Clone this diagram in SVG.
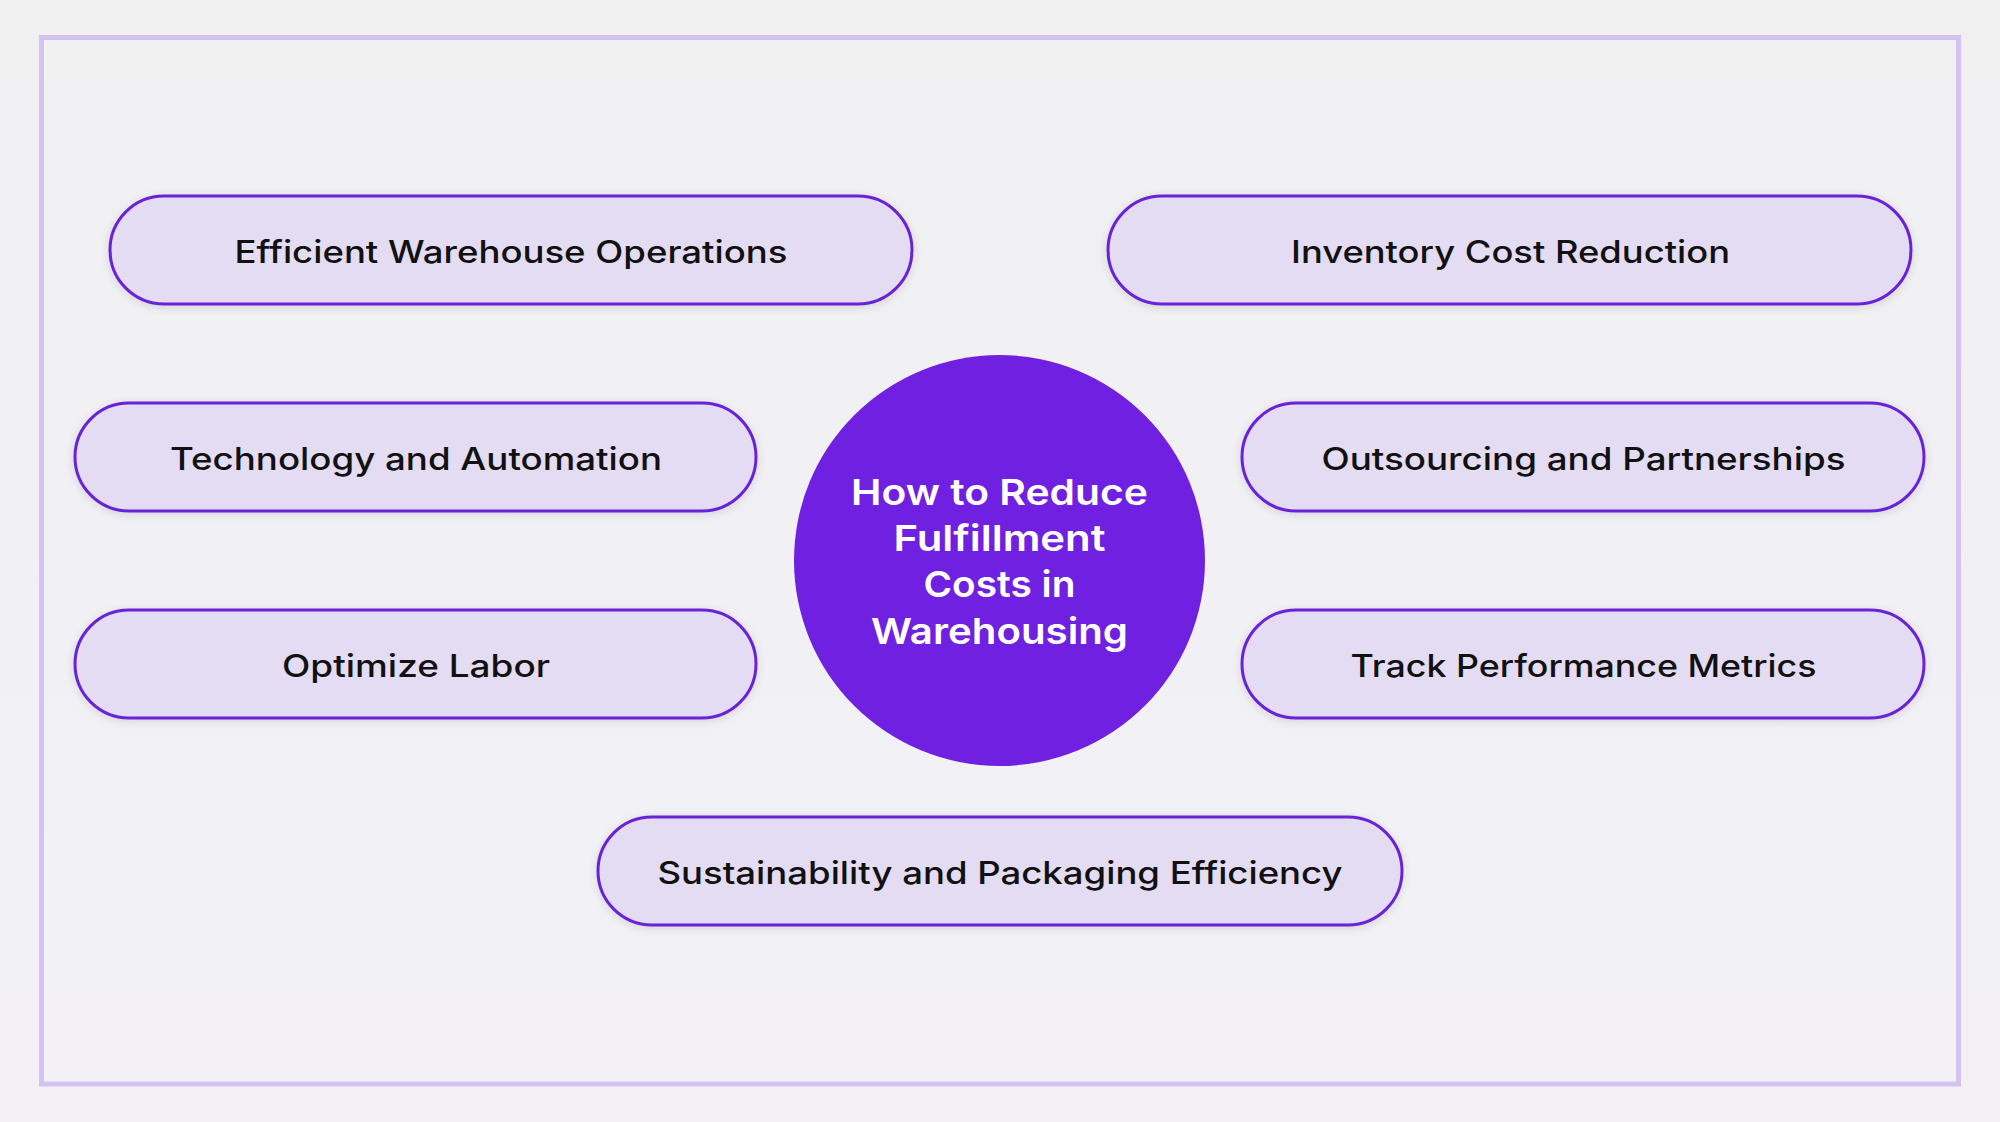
<svg xmlns="http://www.w3.org/2000/svg" width="2000" height="1122" viewBox="0 0 2000 1122">
<defs>
<linearGradient id="bg" x1="0" y1="0" x2="0" y2="1">
<stop offset="0" stop-color="#f0f0f1"/>
<stop offset="0.5" stop-color="#f1f1f5"/>
<stop offset="1" stop-color="#f3f1f5"/>
</linearGradient>
<filter id="sh" x="-10%" y="-30%" width="120%" height="160%">
<feDropShadow dx="0" dy="2" stdDeviation="4" flood-color="#000" flood-opacity="0.12"/>
</filter>
<style>
.pill{fill:#e4dcf3;stroke:#6a22d6;stroke-width:3;filter:url(#sh)}
.lbl{font-family:Inter,"Noto Sans","DejaVu Sans",sans-serif;font-size:31px;font-weight:500;fill:#111;text-anchor:middle}
.ctr{font-family:Inter,"Noto Sans","DejaVu Sans",sans-serif;font-size:36px;font-weight:600;fill:#fff;text-anchor:middle}
</style>
</defs>
<rect x="0" y="0" width="2000" height="1122" fill="url(#bg)"/>
<rect x="41.5" y="37.5" width="1917" height="1046.5" fill="none" stroke="#d4c2f0" stroke-width="5"/>
<g id="connectors"></g>
<g id="center">
<circle cx="999.5" cy="560.5" r="205.5" fill="#7020e0"/>
<text class="ctr" x="999.5" y="505" textLength="297" lengthAdjust="spacingAndGlyphs">How to Reduce</text>
<text class="ctr" x="999.5" y="551" textLength="212" lengthAdjust="spacingAndGlyphs">Fulfillment</text>
<text class="ctr" x="999.5" y="597" textLength="152" lengthAdjust="spacingAndGlyphs">Costs in</text>
<text class="ctr" x="999.5" y="644" textLength="257" lengthAdjust="spacingAndGlyphs">Warehousing</text>
</g>
<g id="n1">
<rect class="pill" x="110" y="196" width="802" height="108" rx="54"/>
<text class="lbl" x="511" y="262.5" textLength="553" lengthAdjust="spacingAndGlyphs">Efficient Warehouse Operations</text>
</g>
<g id="n2">
<rect class="pill" x="1108" y="196" width="803" height="108" rx="54"/>
<text class="lbl" x="1510.5" y="262.5" textLength="439" lengthAdjust="spacingAndGlyphs">Inventory Cost Reduction</text>
</g>
<g id="n3">
<rect class="pill" x="75" y="403" width="681" height="108" rx="54"/>
<text class="lbl" x="416" y="469.5" textLength="492" lengthAdjust="spacingAndGlyphs">Technology and Automation</text>
</g>
<g id="n4">
<rect class="pill" x="1242" y="403" width="682" height="108" rx="54"/>
<text class="lbl" x="1583.5" y="469.5" textLength="524" lengthAdjust="spacingAndGlyphs">Outsourcing and Partnerships</text>
</g>
<g id="n5">
<rect class="pill" x="75" y="610" width="681" height="108" rx="54"/>
<text class="lbl" x="416" y="676.5" textLength="268" lengthAdjust="spacingAndGlyphs">Optimize Labor</text>
</g>
<g id="n6">
<rect class="pill" x="1242" y="610" width="682" height="108" rx="54"/>
<text class="lbl" x="1583.5" y="676.5" textLength="466" lengthAdjust="spacingAndGlyphs">Track Performance Metrics</text>
</g>
<g id="n7">
<rect class="pill" x="598" y="817" width="804" height="108" rx="54"/>
<text class="lbl" x="1000" y="883.5" textLength="685" lengthAdjust="spacingAndGlyphs">Sustainability and Packaging Efficiency</text>
</g>
</svg>
